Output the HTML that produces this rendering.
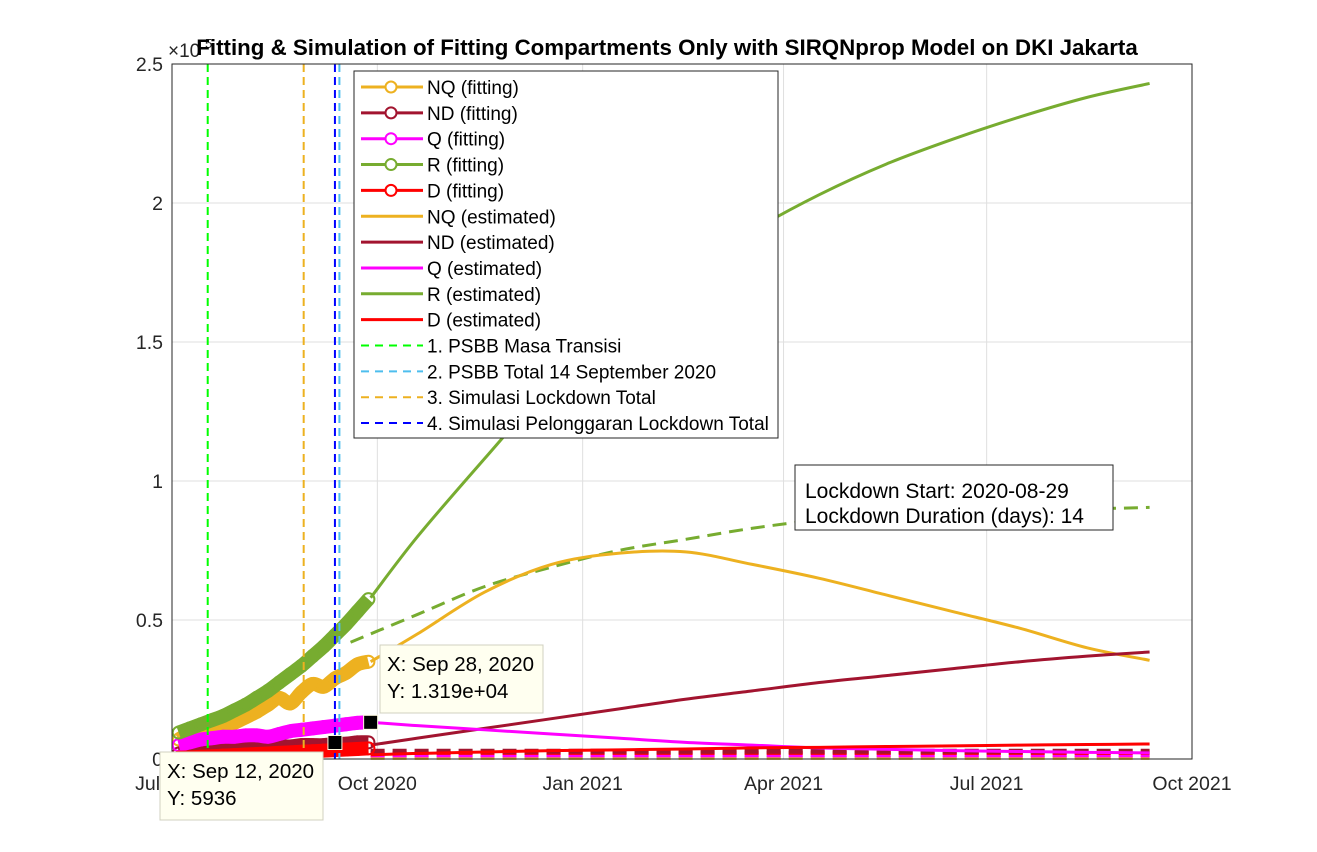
<!DOCTYPE html>
<html><head><meta charset="utf-8"><style>
body{margin:0;background:#fff}
svg{display:block;font-family:"Liberation Sans",Arial,sans-serif}
</style></head><body>
<svg id="chart" width="1317" height="852" viewBox="0 0 1317 852">
<rect width="1317" height="852" fill="#fff"/>
<g id="grid"></g><g id="plot"></g><g id="axes"></g><g id="overlay"></g>
</svg>
<script>
// x = days since 2020-07-01 ; y in thousands
const xTickLabels=["Jul 2020","Oct 2020","Jan 2021","Apr 2021","Jul 2021","Oct 2021"];
const xTickDays=[0,92,184,274,365,457];
const yTickVals=[0,50,100,150,200,250];
const yTickLabels=["0","0.5","1","1.5","2","2.5"];
const fitDays=[3,8,13,18,23,28,33,38,43,48,53,58,63,68,73,78,83,88];
const rFit=[9.5,11,12.5,14,15.5,17.5,19.5,22,24.5,27.5,30.5,33.5,37,40.5,44.5,48.5,53,57.5];
const nqFit=[7,9.5,11,12,11.5,13,15,17,19.5,22,20,24,27,26,29,31,34,35];
const qFit=[5,6,7,7.5,8,8,8.5,8.5,8,9,10,10.5,11,11.5,12,12.5,13,13.2];
const ndFit=[2,2.5,3,3.5,4,4,4,4,4,4.5,4.5,5,5,5,5.5,5.5,6,6];
const dFit=[0.5,0.6,0.8,1,1.2,1.4,1.6,1.8,2,2.2,2.4,2.6,2.8,3,3.2,3.4,3.6,3.8];
const estDays=[89,110,140,170,200,230,260,290,320,350,380,410,438];
const rEst=[58,80,108,135,157,175,190,203,214,223,231,238,243];
const nqEst=[35,45,60,70,74,74.5,70,65,59,53,47,40,35.5];
const ndEst=[5,7.5,11,14.5,18,21.5,24.5,27.5,30,32.5,35,37,38.5];
const qEst=[13.2,12,10.5,9,7.5,6,5,4,3.5,3,2.7,2.4,2.2];
const dEst=[1.5,2,2.5,3,3.3,3.6,4,4.2,4.5,4.7,5,5.2,5.4];
const rDashDays=[80,110,140,170,200,230,260,290,320,350,380,410,438];
const rDash=[42,52,62,69,75,79,83,86,88,89,90,90,90.5];
const flatDays=[89,438];
const ndFlat=[2.8,2.8], dFlat=[2.2,2.2], qFlat=[1.3,1.3], nqFlat=[0.4,0.4];
const vlineDays=[16,59,73,75];
const tip1=[73,5.936], tip2=[89,13.19];

const X0=172,X1=1192,Y0=759,Y1=64,XMAX=457,YMAX=250;
const sx=d=>X0+(X1-X0)*d/XMAX, sy=v=>Y0-(Y0-Y1)*v/YMAX;
const NS="http://www.w3.org/2000/svg";
function mk(p,t,a){const e=document.createElementNS(NS,t);for(const k in a)e.setAttribute(k,a[k]);p.appendChild(e);return e;}
const grid=document.getElementById('grid'),plot=document.getElementById('plot'),axes=document.getElementById('axes'),ov=document.getElementById('overlay');
const C={nq:"#EDB120",nd:"#A2142F",q:"#FF00FF",r:"#77AC30",d:"#FF0000"};
xTickDays.forEach((d,i)=>{const l=mk(grid,'line',{x1:sx(d),x2:sx(d),y1:Y1,y2:Y0,stroke:"#dfdfdf"});

const t=mk(axes,'text',{x:sx(d),y:790,'text-anchor':'middle','font-size':19.5,fill:'#262626'});t.textContent=xTickLabels[i];
});
yTickVals.forEach((v,i)=>{const l=mk(grid,'line',{x1:X0,x2:X1,y1:sy(v),y2:sy(v),stroke:"#dfdfdf"});

const t=mk(axes,'text',{x:163,y:sy(v)+7,'text-anchor':'end','font-size':19.5,fill:'#262626'});t.textContent=yTickLabels[i];
});
function smooth(xs,ys){const P=xs.map((d,i)=>[sx(d),sy(ys[i])]);let s='M'+P[0][0]+','+P[0][1];
for(let i=0;i<P.length-1;i++){const p0=P[i-1]||P[i],p1=P[i],p2=P[i+1],p3=P[i+2]||P[i+1];
s+=' C'+(p1[0]+(p2[0]-p0[0])/6)+','+(p1[1]+(p2[1]-p0[1])/6)+' '+(p2[0]-(p3[0]-p1[0])/6)+','+(p2[1]-(p3[1]-p1[1])/6)+' '+p2[0]+','+p2[1];}return s;}
function poly(xs,ys,col,w,dash,name){const e=mk(plot,'path',{d:smooth(xs,ys),fill:'none',stroke:col,'stroke-width':w,'stroke-dasharray':dash||'none'});
return e;}
const vcols=["#00FF00","#EDB120","#0000FF","#4DBEEE"];
const vnames=["psbb-transisi-line","lockdown-total-line","pelonggaran-line","psbb-total-line"];
poly(flatDays,nqFlat,C.nq,4,"14,8",'nq-dashed');
poly(flatDays,qFlat,C.q,4,"14,8",'q-dashed');
poly(flatDays,dFlat,C.d,4,"14,8",'d-dashed');
poly(flatDays,ndFlat,C.nd,5,"14,8",'nd-dashed');
poly(rDashDays,rDash,C.r,3,"14,8",'r-dashed');
poly(estDays,rEst,C.r,3,null,'r-estimated');
poly(estDays,nqEst,C.nq,3,null,'nq-estimated');
poly(estDays,ndEst,C.nd,3,null,'nd-estimated');
poly(estDays,qEst,C.q,3,null,'q-estimated');
poly(estDays,dEst,C.d,3,null,'d-estimated');
[[nqFit,C.nq,'nq'],[ndFit,C.nd,'nd'],[qFit,C.q,'q'],[rFit,C.r,'r'],[dFit,C.d,'d']].forEach(([ys,c,n])=>{
poly(fitDays,ys,c,14,null,n+'-fitting-line');
fitDays.forEach((d,i)=>{const m=mk(plot,'circle',{cx:sx(d),cy:sy(ys[i]),r:6,fill:'none',stroke:c,'stroke-width':2});
});});
vlineDays.forEach((d,i)=>{const l=mk(plot,'line',{x1:sx(d),x2:sx(d),y1:Y1,y2:Y0,stroke:vcols[i],'stroke-width':2,'stroke-dasharray':'8,5'});
});
const bx=mk(axes,'rect',{x:X0,y:Y1,width:X1-X0,height:Y0-Y1,fill:'none',stroke:'#262626','stroke-width':1});

function tip(p,bxX,bxY,lines,name){const m=mk(ov,'rect',{x:sx(p[0])-7,y:sy(p[1])-7,width:14,height:14,fill:'#000',stroke:'#fffbe0'});

const r=mk(ov,'rect',{x:bxX,y:bxY,width:163,height:68,fill:'#fffff0',stroke:'#d0d0c0'});

lines.forEach((s,i)=>{const t=mk(ov,'text',{x:bxX+7,y:bxY+26+i*27,'font-size':20.5,fill:'#000'});t.textContent=s;
});}
tip(tip1,160,752,["X: Sep 12, 2020","Y: 5936"],'datatip-sep12');
tip(tip2,380,645,["X: Sep 28, 2020","Y: 1.319e+04"],'datatip-sep28');
</script>
<script>
(function(){const s=document.getElementById('chart');const NS="http://www.w3.org/2000/svg";
function mk(p,t,a){const e=document.createElementNS(NS,t);for(const k in a)e.setAttribute(k,a[k]);p.appendChild(e);return e;}
const g=mk(s,'g',{});
mk(g,'rect',{x:354,y:71,width:424,height:367,fill:'#fff',stroke:'#262626'});
const items=[["NQ (fitting)","#EDB120","m"],["ND (fitting)","#A2142F","m"],["Q (fitting)","#FF00FF","m"],["R (fitting)","#77AC30","m"],["D (fitting)","#FF0000","m"],
["NQ (estimated)","#EDB120","s"],["ND (estimated)","#A2142F","s"],["Q (estimated)","#FF00FF","s"],["R (estimated)","#77AC30","s"],["D (estimated)","#FF0000","s"],
["1. PSBB Masa Transisi","#00FF00","d"],["2. PSBB Total 14 September 2020","#4DBEEE","d"],["3. Simulasi Lockdown Total","#EDB120","d"],["4. Simulasi Pelonggaran Lockdown Total","#0000FF","d"]];
items.forEach((it,i)=>{const y=87+i*25.85;
const e=mk(g,'g',{});
mk(e,'line',{x1:361,x2:423,y1:y,y2:y,stroke:it[1],'stroke-width':it[2]=='d'?2:3,'stroke-dasharray':it[2]=='d'?'8,6':'none'});
if(it[2]=='m')mk(e,'circle',{cx:391,cy:y,r:5.5,fill:'#fff',stroke:it[1],'stroke-width':2});
const t=mk(e,'text',{x:427,y:y+7,'font-size':19,fill:'#000'});t.textContent=it[0];});
const tb=mk(s,'g',{});
mk(tb,'rect',{x:795,y:465,width:318,height:65,fill:'#fff',stroke:'#262626'});
[["Lockdown Start: 2020-08-29",497],["Lockdown Duration (days): 14",522]].forEach(a=>{const t=mk(tb,'text',{x:805,y:a[1]+1,'font-size':21,fill:'#000'});t.textContent=a[0];});
const ex=mk(s,'text',{x:168,y:57,'font-size':19,fill:'#262626'});ex.textContent="×10";

const e5=mk(s,'text',{x:205,y:48,'font-size':13,fill:'#262626'});e5.textContent="5";

const ti=mk(s,'text',{x:667,y:55,'text-anchor':'middle','font-size':22.3,'font-weight':'bold',fill:'#000'});
ti.textContent="Fitting & Simulation of Fitting Compartments Only with SIRQNprop Model on DKI Jakarta";

})();
</script>
</body></html>
